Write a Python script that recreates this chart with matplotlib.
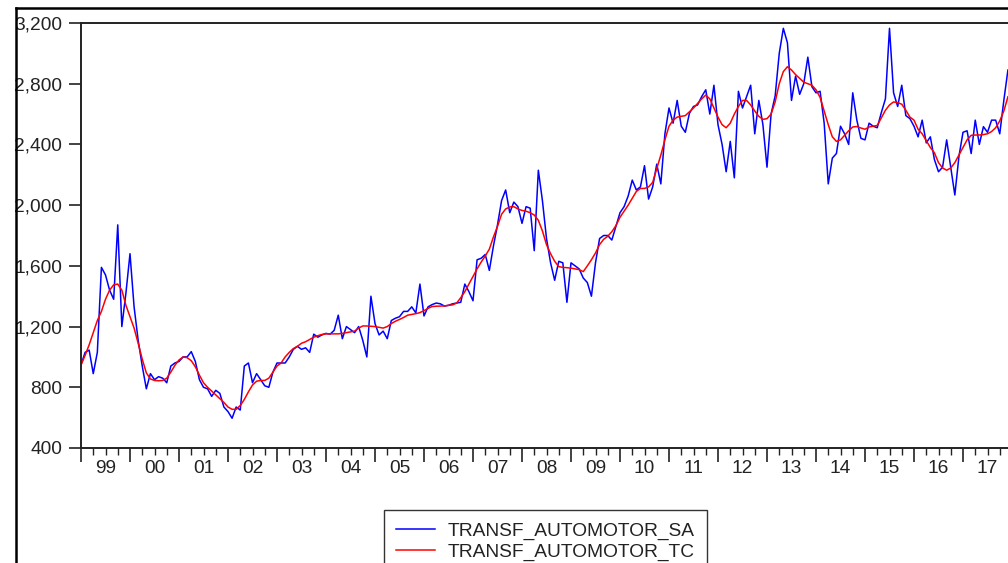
"""
TRANSF_AUTOMOTOR: serie desestacionalizada (SA) y tendencia-ciclo (TC)
estilo grafico EViews, mensual 1999-2017
"""
import numpy as np
import matplotlib
matplotlib.use("Agg")
import matplotlib.pyplot as plt
from matplotlib.lines import Line2D
from matplotlib.ticker import FixedLocator, FuncFormatter

plt.rcParams['font.family'] = ['Liberation Sans', 'DejaVu Sans']

start_year = 1999
end_year = 2018
year_labels = [f"{y % 100:02d}" for y in range(start_year, end_year)]
y_ticks = [400, 800, 1200, 1600, 2000, 2400, 2800, 3200]

# serie SA (mensual, ene-1999 .. dic-2017)
sa = [
    947, 1030, 1045, 890, 1030, 1590, 1540, 1440, 1380, 1870, 1200, 1420,
    1680, 1330, 1110, 940, 790, 890, 850, 870, 860, 830, 940, 960,
    970, 1000, 1000, 1035, 970, 850, 800, 790, 740, 780, 760, 670,
    640, 596, 670, 650, 940, 960, 830, 890, 850, 810, 800, 900,
    960, 960, 960, 1000, 1050, 1070, 1050, 1060, 1030, 1150, 1130, 1145,
    1155, 1150, 1175, 1275, 1120, 1200, 1180, 1160, 1200, 1110, 1000, 1400,
    1220, 1145, 1170, 1120, 1240, 1255, 1265, 1300, 1300, 1330, 1290, 1480,
    1270, 1330, 1345, 1355, 1350, 1335, 1340, 1350, 1355, 1360, 1480, 1430,
    1370, 1640, 1650, 1675, 1570, 1730, 1870, 2030, 2100, 1950, 2020, 1990,
    1880, 1990, 1980, 1700, 2230, 2030, 1780, 1620, 1505, 1630, 1620, 1360,
    1620, 1600, 1580, 1520, 1490, 1400, 1620, 1780, 1800, 1800, 1770, 1860,
    1950, 1990, 2060, 2165, 2100, 2120, 2260, 2040, 2120, 2270, 2140, 2470,
    2640, 2540, 2690, 2520, 2480, 2605, 2650, 2660, 2715, 2760, 2600, 2790,
    2530, 2400, 2220, 2420, 2180, 2750, 2640, 2715, 2790, 2470, 2690, 2530,
    2250, 2600, 2720, 3000, 3165, 3070, 2690, 2850, 2730, 2800, 2975, 2780,
    2740, 2750, 2540, 2140, 2310, 2340, 2520, 2470, 2400, 2740, 2560, 2440,
    2430, 2540, 2520, 2510, 2610, 2700, 3165, 2740, 2650, 2790, 2590, 2570,
    2520, 2450, 2560, 2410, 2450, 2300, 2220, 2250, 2430, 2250, 2067, 2320,
    2480, 2490, 2340, 2560, 2400, 2517, 2480, 2560, 2560, 2470, 2690, 2890,
]

# serie TC (tendencia-ciclo)
tc = [
    947, 1010, 1080, 1160, 1240, 1300, 1380, 1440, 1475, 1480, 1440, 1340,
    1265, 1190, 1090, 985, 895, 855, 845, 843, 845, 860, 900, 945,
    980, 1000, 995, 975, 935, 880, 830, 800, 775, 750, 725, 700,
    670, 655, 655, 680, 720, 770, 815, 840, 845, 845, 860, 900,
    940, 960, 1000, 1030, 1055, 1070, 1090, 1100, 1115, 1130, 1140, 1148,
    1152, 1152, 1152, 1152, 1155, 1160, 1165, 1170, 1190, 1204, 1204, 1202,
    1200, 1195, 1190, 1200, 1220, 1235, 1247, 1260, 1275, 1280, 1285, 1292,
    1305, 1320, 1332, 1334, 1335, 1336, 1340, 1343, 1355, 1390, 1430, 1480,
    1530, 1580, 1625, 1665, 1710, 1790, 1860, 1940, 1975, 1988, 1990, 1975,
    1965, 1960, 1950, 1935, 1900, 1830, 1740, 1680, 1630, 1595, 1590, 1588,
    1585, 1580, 1575, 1562, 1600, 1640, 1685, 1740, 1775, 1795, 1825, 1865,
    1920, 1960, 2000, 2045, 2090, 2110, 2110, 2120, 2150, 2240, 2330, 2430,
    2520, 2560, 2580, 2585, 2590, 2615, 2640, 2670, 2700, 2725, 2700, 2640,
    2580, 2530, 2510, 2540, 2600, 2650, 2690, 2690, 2660, 2620, 2585, 2565,
    2570, 2600, 2680, 2800, 2880, 2912, 2890, 2860, 2835, 2810, 2800, 2790,
    2760, 2710, 2620, 2530, 2450, 2420, 2430, 2460, 2490, 2515, 2518, 2508,
    2500, 2515, 2520, 2525, 2575, 2625, 2660, 2680, 2675, 2665, 2625, 2580,
    2560, 2500, 2470, 2425, 2380, 2345, 2280, 2245, 2230, 2245, 2280, 2330,
    2380, 2430, 2460, 2462, 2462, 2465, 2470, 2485, 2510, 2555, 2620, 2714,
]

W, H = 1008, 563
fs = 13.8
fig = plt.figure(figsize=(W / 100, H / 100), dpi=100)
# el eje se extiende un poco mas alla del borde derecho (recortado como en el original)
ax = fig.add_axes([81 / W, 1 - 448 / H, 931 / W, 425 / H])

t = start_year + np.arange(len(sa)) / 12.0
ax.plot(t, sa, color='#0000ff', linewidth=1.1, label='TRANSF_AUTOMOTOR_SA')
ax.plot(t, tc, color='#ff0000', linewidth=1.1, label='TRANSF_AUTOMOTOR_TC')

ax.set_xlim(start_year, end_year)
ax.set_ylim(400, 3200)

# eje y
ax.yaxis.set_major_locator(FixedLocator(y_ticks))
ax.yaxis.set_major_formatter(FuncFormatter(lambda v, p: f"{int(v):,}"))
ax.tick_params(axis='y', direction='out', length=9, width=1.2, pad=4.5,
               labelsize=fs, colors='#222222')

# eje x: marcas largas por anio, cortas por trimestre, etiqueta centrada
years = np.arange(start_year, end_year + 1)
ax.xaxis.set_major_locator(FixedLocator(years))
ax.xaxis.set_minor_locator(FixedLocator(
    [y + q / 4 for y in years[:-1] for q in (1, 2, 3)]))
ax.tick_params(axis='x', which='major', direction='out', length=10, width=1.2,
               labelbottom=False, color='#222222')
ax.tick_params(axis='x', which='minor', direction='out', length=5, width=1.0,
               color='#222222')
for i, lab in enumerate(year_labels):
    ax.text(start_year + i + 0.5, -0.049, lab, transform=ax.get_xaxis_transform(),
            ha='center', va='center', fontsize=fs, color='#222222')

for s in ax.spines.values():
    s.set_linewidth(1.4)
    s.set_color('#222222')

# marco exterior de la ventana
fig.add_artist(Line2D([16 / W, 16 / W], [0, 1 - 8 / H], transform=fig.transFigure,
                      color='black', linewidth=1.8))
fig.add_artist(Line2D([16 / W, 1], [1 - 8 / H, 1 - 8 / H], transform=fig.transFigure,
                      color='black', linewidth=1.8))

leg = ax.legend(loc='upper left', bbox_to_anchor=(384 / W, 1 - 510 / H),
                bbox_transform=fig.transFigure, borderaxespad=0, fontsize=fs,
                frameon=True, fancybox=False, framealpha=1, edgecolor='#333333',
                handlelength=2.0, handletextpad=0.65, borderpad=0.65,
                labelspacing=0.15)
leg.get_frame().set_linewidth(1.0)
for txt in leg.get_texts():
    txt.set_color('#222222')

fig.savefig('out.png', dpi=100)
